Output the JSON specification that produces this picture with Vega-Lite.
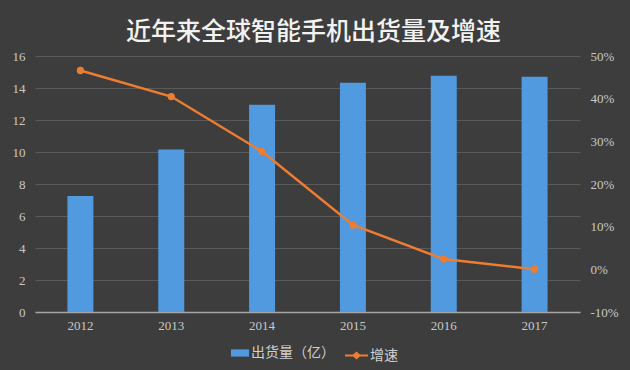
{
  "$schema": "https://vega.github.io/schema/vega-lite/v6.json",
  "width": 545,
  "height": 256,
  "autosize": "none",
  "padding": {"left": 35, "top": 56, "right": 50, "bottom": 58},
  "background": "#3d3d3d",
  "title": {
    "text": "近年来全球智能手机出货量及增速",
    "font": "Noto Sans CJK SC",
    "fontSize": 25,
    "fontWeight": 500,
    "color": "#f2f2f2",
    "anchor": "middle",
    "offset": 5,
    "dx": 6
  },
  "data": {
    "values": [
      {"year": "2012", "shipments": 7.25, "growth": 46.6},
      {"year": "2013", "shipments": 10.15, "growth": 40.5},
      {"year": "2014", "shipments": 12.95, "growth": 27.6},
      {"year": "2015", "shipments": 14.33, "growth": 10.4},
      {"year": "2016", "shipments": 14.77, "growth": 2.4},
      {"year": "2017", "shipments": 14.7, "growth": 0.0}
    ]
  },
  "config": {
    "view": {"stroke": null},
    "axis": {
      "labelFont": "Liberation Serif",
      "labelFontSize": 13,
      "labelColor": "#c8c8c8",
      "domain": false,
      "ticks": false,
      "title": null
    }
  },
  "layer": [
    {
      "mark": {"type": "bar", "width": 26},
      "encoding": {
        "x": {
          "field": "year",
          "type": "nominal",
          "scale": {"paddingInner": 0.7, "paddingOuter": 0.35},
          "axis": {"labelAngle": 0, "labelPadding": 7, "domain": true, "domainColor": "#a6a6a6", "domainWidth": 1.5, "grid": false}
        },
        "y": {
          "field": "shipments",
          "type": "quantitative",
          "scale": {"domain": [0, 16]},
          "axis": {"values": [0, 2, 4, 6, 8, 10, 12, 14, 16], "grid": true, "gridColor": "#5a5a5a", "gridWidth": 1, "labelPadding": 10}
        },
        "fill": {
          "datum": "出货量（亿）",
          "scale": {"range": ["#519ae0"]},
          "legend": {
            "orient": "none",
            "legendX": 196,
            "legendY": 288,
            "title": null,
            "symbolType": "M-1,-0.4H1V0.4H-1Z",
            "symbolSize": 324,
            "symbolStrokeWidth": 0,
            "labelFont": "Noto Sans CJK SC",
            "labelFontSize": 14,
            "labelColor": "#d0d0d0",
            "labelOffset": 2
          }
        }
      }
    },
    {
      "mark": {"type": "line", "strokeWidth": 2.5, "point": {"size": 28, "filled": true, "color": "#ed7d31"}},
      "encoding": {
        "x": {"field": "year", "type": "nominal"},
        "y": {
          "field": "growth",
          "type": "quantitative",
          "scale": {"domain": [-10, 50]},
          "axis": {
            "orient": "right",
            "values": [-10, 0, 10, 20, 30, 40, 50],
            "labelExpr": "datum.value + '%'",
            "grid": false,
            "labelPadding": 10
          }
        },
        "stroke": {
          "datum": "增速",
          "scale": {"range": ["#ed7d31"]},
          "legend": {
            "orient": "none",
            "legendX": 310,
            "legendY": 288,
            "title": null,
            "symbolType": "M-1,-0.09H-0.3L0,-0.35L0.3,-0.09H1V0.09H0.3L0,0.35L-0.3,0.09H-1Z",
            "symbolSize": 529,
            "symbolStrokeWidth": 0,
            "labelFont": "Noto Sans CJK SC",
            "labelFontSize": 14,
            "labelColor": "#d0d0d0",
            "labelOffset": 2,
            "encode": {"symbols": {"update": {"fill": {"value": "#ed7d31"}, "stroke": {"value": "#ed7d31"}}}}
          }
        }
      }
    }
  ],
  "resolve": {"scale": {"y": "independent", "fill": "independent", "stroke": "independent"}}
}
